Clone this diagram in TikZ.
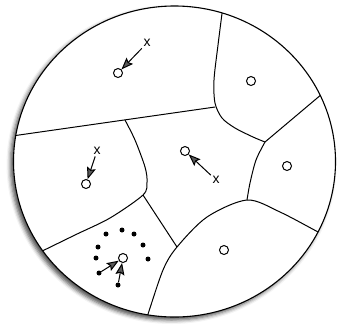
\documentclass[tikz,border=0pt]{standalone}
\usepackage{fontspec}
\setmainfont{Liberation Sans}
\usetikzlibrary{arrows.meta,shadows.blur}

\begin{document}
\begin{tikzpicture}[
    x=1pt, y=-1pt,
    edge/.style={line width=1pt},
    site/.style={draw, circle, line width=1pt, fill=white, minimum size=9pt, inner sep=0pt},
    dot/.style={circle, fill=black, minimum size=5pt, inner sep=0pt},
    sample/.style={inner sep=1.5pt, font=\fontsize{14}{14}\selectfont},
    pull/.style={line width=1pt, -{Stealth[length=12pt, width=9pt, inset=2pt]}}
  ]
    \useasboundingbox (0,0) rectangle (337,325);
    \fill[white, blur shadow={shadow xshift=-3pt, shadow yshift=-3pt, shadow blur radius=4pt, shadow opacity=70}]
      (174.5,161.5) ellipse [x radius=161, y radius=155.5];
    \begin{scope}
      \clip (174.5,161.5) ellipse [x radius=161, y radius=155.5];
      \draw[edge] (5,137) -- (215,107);
      \draw[edge] plot[smooth] coordinates {(224,-2) (218,45) (214,80) (215,103) (222,118) (235,128) (253,137) (265,142)};
      \draw[edge] (265,142) -- (335,83);
      \draw[edge] plot[smooth] coordinates {(265,142) (256,160) (250,183) (247,200)};
      \draw[edge] plot[smooth] coordinates {(141,332) (147,317) (163,270) (177,247) (207,217) (247,200) (280,212) (320,233) (340,243)};
      \draw[edge] plot[smooth] coordinates {(125,120) (135,140) (145,167) (147,182) (143,195) (110,218) (75,235) (30,257)};
      \draw[edge] (143,195) -- (177,247);
    \end{scope}
    \draw[line width=1.1pt] (174.5,161.5) ellipse [x radius=161, y radius=155.5];

    \node[site] (s1) at (118,73) {};
    \node[site] (s2) at (251,81) {};
    \node[site] (s3) at (86,184) {};
    \node[site] (s4) at (185,151) {};
    \node[site] (s5) at (287,166) {};
    \node[site] (s6) at (224,250) {};
    \node[site] (s7) at (123,258) {};

    \node[sample] (x1) at (147,43) {x};
    \node[sample] (x2) at (97,151) {x};
    \node[sample] (x3) at (216,180) {x};
    \draw[pull] (x1) -- (s1);
    \draw[pull] (x2) -- (s3);
    \draw[pull] (x3) -- (s4);

    \foreach \n/\p in {1/{(106,234)}, 2/{(122,230)}, 3/{(134,234)}, 4/{(143,245)},
                      5/{(148,259)}, 6/{(98,247)}, 7/{(96,258)}, 8/{(99,273)}, 9/{(118,285)}}
      \node[dot] (d\n) at \p {};
    \draw[pull] (d8) -- (s7);
    \draw[pull] (d9) -- (s7);
\end{tikzpicture}
\end{document}
